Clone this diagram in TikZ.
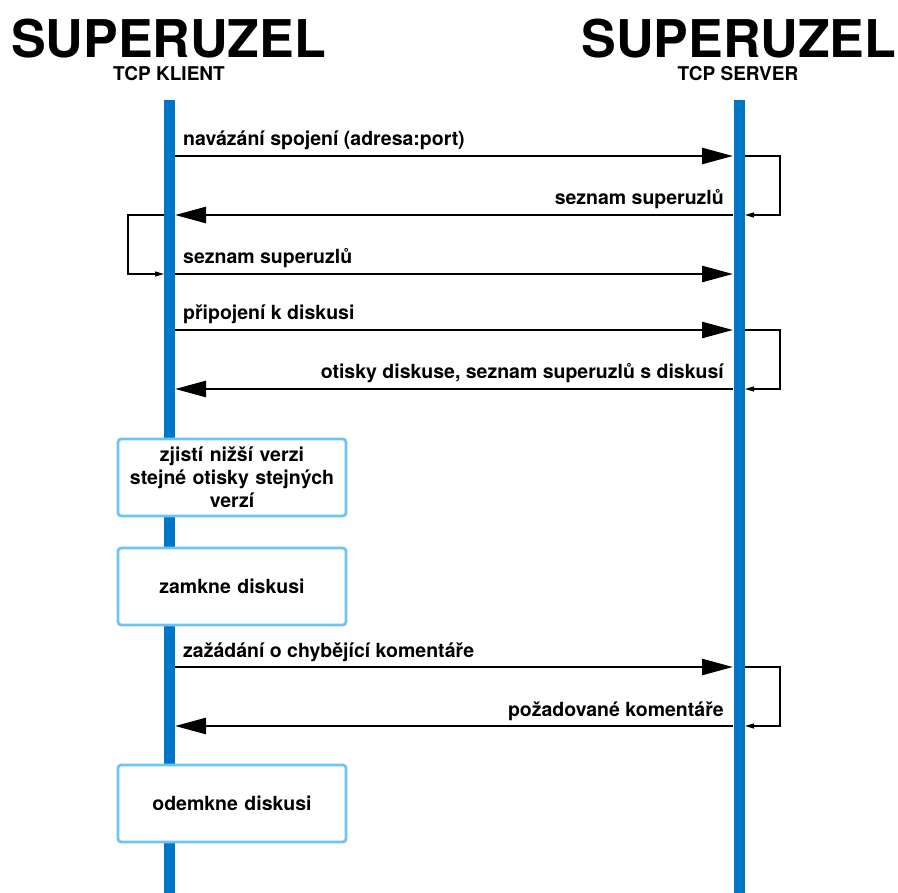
\documentclass[tikz,border=0pt]{standalone}
\usepackage{fontspec}
\setmainfont{TeX Gyre Heros}
\usetikzlibrary{arrows.meta}
\definecolor{lifeblue}{RGB}{0,118,198}
\definecolor{boxblue}{RGB}{108,196,244}
\begin{document}
\begin{tikzpicture}[x=1pt,y=-1pt,
  titlefont/.style={font=\fontsize{52}{60}\selectfont\bfseries, inner sep=0pt},
  subfont/.style={font=\fontsize{19}{23}\selectfont\bfseries, inner sep=0pt},
  lifeline/.style={line width=11pt, lifeblue},
  msg/.style={line width=2.6pt, -{Triangle[length=31pt,width=16pt]}},
  selfloop/.style={line width=1.1pt, -{Triangle[length=9pt,width=5pt]}},
  lbl/.style={font=\fontsize{19.5}{23}\selectfont\bfseries, inner sep=0pt},
  actbox/.style={draw=boxblue, line width=2.7pt, rounded corners=3pt, fill=white,
    minimum width=228pt, minimum height=77pt, align=center, text width=220pt,
    inner sep=0pt, font=\fontsize{19.5}{23}\selectfont\bfseries}
]
\useasboundingbox (0,0) rectangle (898,893);

% titles
\node[titlefont, anchor=base] (t1) at (168.5,58) {SUPERUZEL};
\node[subfont, anchor=base] (s1) at (169,81) {TCP KLIENT};
\node[titlefont, anchor=base] (t2) at (739,58) {SUPERUZEL};
\node[subfont, anchor=base] (s2) at (738,81) {TCP SERVER};

% lifelines
\coordinate (Ltop) at (169.5,100);
\coordinate (Lbot) at (169.5,893);
\coordinate (Rtop) at (739,100);
\coordinate (Rbot) at (739,893);
\draw[lifeline] (Ltop) -- (Lbot);
\draw[lifeline] (Rtop) -- (Rbot);

% message anchor points
\foreach \n/\y in {1/156,2/215,3/274,4/330,5/389,6/667,7/726}{
  \coordinate (L\n) at (175,\y);
  \coordinate (R\n) at (733,\y);
  \coordinate (LL\n) at (164,\y);
  \coordinate (RR\n) at (745,\y);
}

% messages
\draw[msg] (L1) -- (R1);
\node[lbl, anchor=base west] (m1) at (183,146) {navázání spojení (adresa:port)};
\draw[selfloop] (RR1) -- ++(35,0) |- (RR2);

\draw[msg] (R2) -- (L2);
\node[lbl, anchor=base east] (m2) at (724,205) {seznam superuzlů};
\draw[selfloop] (LL2) -- ++(-36,0) |- (LL3);

\draw[msg] (L3) -- (R3);
\node[lbl, anchor=base west] (m3) at (183,264) {seznam superuzlů};

\draw[msg] (L4) -- (R4);
\node[lbl, anchor=base west] (m4) at (183,320) {připojení k diskusi};
\draw[selfloop] (RR4) -- ++(35,0) |- (RR5);

\draw[msg] (R5) -- (L5);
\node[lbl, anchor=base east] (m5) at (724,379) {otisky diskuse, seznam superuzlů s diskusí};

% activity boxes
\node[actbox] (b1) at (232,477.5) {zjistí nižší verzi\\stejné otisky stejných\\verzí};
\node[actbox] (b2) at (232,586.5) {zamkne diskusi};

\draw[msg] (L6) -- (R6);
\node[lbl, anchor=base west] (m6) at (183,657) {zažádání o chybějící komentáře};
\draw[selfloop] (RR6) -- ++(35,0) |- (RR7);

\draw[msg] (R7) -- (L7);
\node[lbl, anchor=base east] (m7) at (724,716) {požadované komentáře};

\node[actbox] (b3) at (232,803.5) {odemkne diskusi};
\end{tikzpicture}
\end{document}
